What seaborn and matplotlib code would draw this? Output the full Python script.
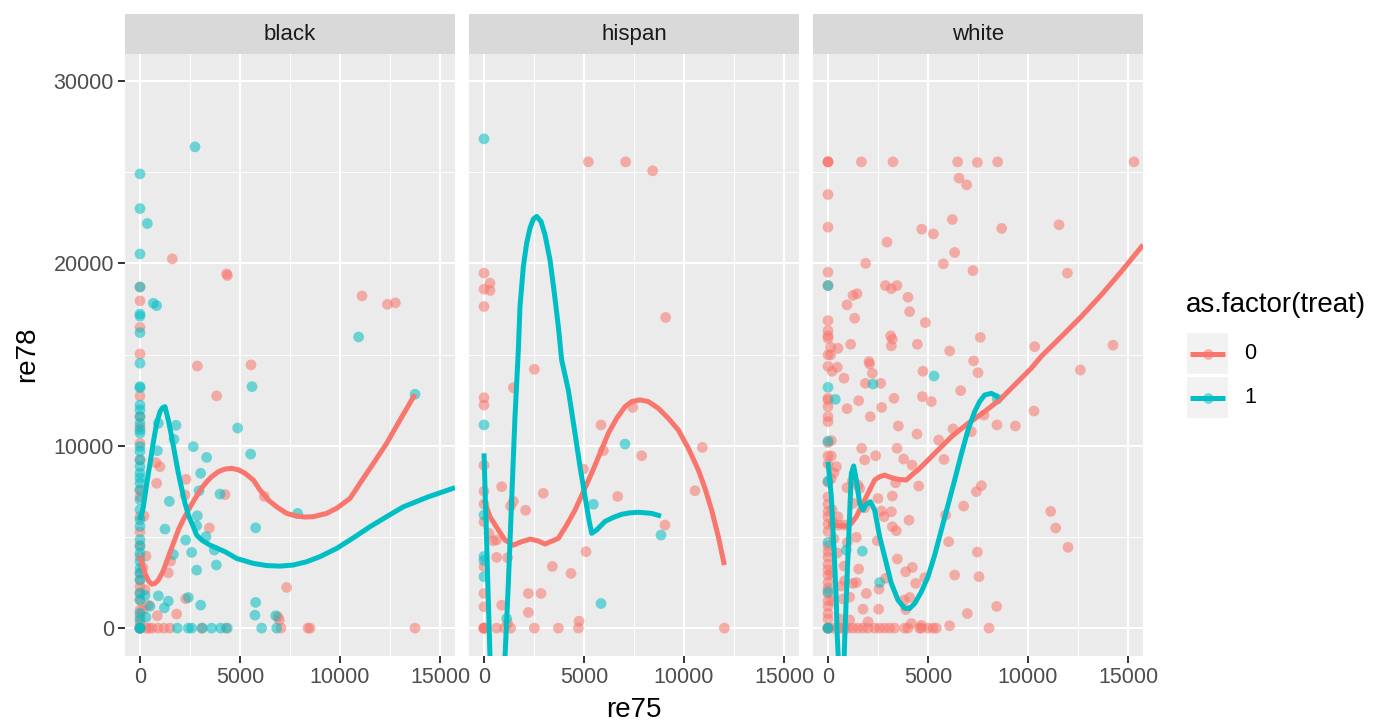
import numpy as np
import pandas as pd
import matplotlib
matplotlib.use("Agg")
import matplotlib.pyplot as plt
import seaborn as sns
from matplotlib.ticker import MultipleLocator, FixedLocator
from matplotlib.lines import Line2D
from matplotlib.patches import Rectangle

# ---------------- data ----------------
facets = ["black", "hispan", "white"]
treat_levels = ["0", "1"]
x_ticks = [0, 5000, 10000, 15000]
y_ticks = [0, 10000, 20000, 30000]
x_label = "re75"
y_label = "re78"
legend_title = "as.factor(treat)"

black_ctrl = [
    (0, 18700), (0, 17940), (0, 16490), (0, 15030), (0, 12730), (0, 11590), (0, 11040), (0, 10130),
    (0, 9210), (0, 7570), (0, 7200), (0, 6110), (0, 5280), (0, 4550), (0, 3910), (0, 3000), (0, 2630),
    (0, 2270), (0, 1900), (0, 1540), (0, 990), (0, 620), (0, 260), (0, 0), (0, 0), (0, 0), (0, 0),
    (1617, 20240), (4330, 19420), (4370, 19330), (11100, 18210), (12370, 17750), (12770, 17830),
    (2867, 14370), (5550, 14430), (3833, 12730), (800, 9070), (1000, 8850), (2300, 8160), (833, 7940),
    (2250, 7300), (4250, 7320), (6217, 7220), (200, 6140), (3467, 5490), (1533, 3680), (300, 3950),
    (1417, 3030), (7333, 2230), (2283, 1610), (417, 1260), (867, 680), (1833, 770), (6967, 440),
    (7050, 0), (3083, 0), (4300, 0), (8500, 0), (8400, 0), (13750, 0), (300, 0), (600, 0), (900, 0),
    (1200, 0), (1500, 0), (150, 1000), (250, 2100), (450, 0), (150, 3300), (6900, 620),
]
black_trt = [
    (0, 24900), (0, 23000), (0, 20510), (0, 18700), (0, 17220), (0, 17100), (0, 16200), (0, 14520),
    (0, 13240), (0, 13180), (0, 12230), (0, 11960), (0, 11600), (0, 11230), (0, 10870), (0, 10690),
    (0, 9960), (0, 9690), (0, 9230), (0, 8860), (0, 8500), (0, 8230), (0, 7950), (0, 7580), (0, 7040),
    (0, 6490), (0, 5940), (0, 5580), (0, 4850), (0, 4480), (0, 4110), (0, 3660), (0, 3290), (0, 3020),
    (0, 2650), (0, 1920), (0, 1550), (0, 820), (0, 460), (0, 0), (0, 0), (0, 0),
    (2750, 26380), (367, 22180), (667, 17810), (833, 17680), (10930, 15960), (13750, 12820),
    (5600, 13240), (917, 11230), (1800, 11120), (1700, 10350), (4883, 10970), (2667, 9950),
    (867, 9730), (3333, 9360), (5533, 9540), (3033, 8490), (2950, 7530), (4000, 7350), (1467, 6950),
    (7883, 6290), (2867, 6160), (2833, 5610), (5783, 5500), (1250, 5430), (3300, 5010), (2283, 4830),
    (3717, 4280), (2583, 4150), (1667, 4040), (3817, 3460), (2833, 3180), (917, 1770), (2417, 1680),
    (1417, 1480), (3033, 1260), (5783, 1410), (1217, 1110), (5750, 710), (6783, 680), (1867, 0),
    (2417, 0), (2583, 0), (3117, 0), (3583, 0), (4033, 0), (4367, 0), (6083, 0), (6833, 0),
    (500, 1200), (300, 600), (250, 1800),
]
hispan_ctrl = [
    (5217, 25560), (7083, 25560), (8433, 25070), (0, 19460), (300, 18910), (0, 18580), (300, 18510),
    (0, 17630), (9083, 17030), (2517, 14190), (1467, 13180), (0, 12630), (0, 12230), (7433, 12100),
    (5850, 11140), (5967, 9730), (7883, 9450), (10917, 9910), (0, 8920), (4967, 8720), (0, 7500),
    (0, 6800), (0, 5830), (883, 7750), (2967, 7390), (1467, 6950), (1333, 6690), (2083, 6460),
    (6683, 7220), (10550, 7530), (9050, 5650), (250, 5200), (467, 4790), (633, 4830), (5100, 4190),
    (633, 3880), (1183, 3860), (0, 3380), (3417, 3380), (4350, 3000), (0, 1900), (2217, 1900),
    (2850, 1900), (0, 1170), (883, 1260), (2217, 860), (1183, 260), (4750, 380), (0, 0), (0, 0),
    (0, 0), (0, 0), (633, 0), (1017, 0), (1333, 0), (2517, 0), (3717, 0), (4717, 0), (12017, 0),
]
hispan_trt = [
    (0, 26820), (0, 11140), (7050, 10090), (0, 6200), (5467, 6790), (8850, 5100), (0, 3930),
    (0, 3710), (0, 2820), (5850, 1350), (1133, 530),
]
white_ctrl = [
    (0, 25560), (0, 25560), (0, 25560), (1667, 25560), (3250, 25560), (6483, 25560), (7467, 25530),
    (8483, 25560), (15300, 25560), (6550, 24670), (6933, 24300), (0, 23770), (0, 21980), (6217, 22400),
    (4683, 21870), (5267, 21610), (8683, 21910), (11550, 22110), (2950, 21160), (6333, 20590),
    (1883, 20000), (5767, 19970), (7250, 19600), (11967, 19460), (0, 19510), (0, 18780), (2867, 18780),
    (3167, 18610), (3450, 18780), (1250, 18240), (1450, 18330), (4000, 18140), (950, 17720),
    (1333, 16990), (4083, 17350), (4867, 16750), (0, 16860), (0, 16310), (0, 16020), (0, 15890),
    (3133, 16020), (3217, 15840), (1133, 15560), (500, 15340), (133, 15400), (3167, 15470),
    (4467, 15560), (6083, 15190), (7617, 15940), (10333, 15430), (14250, 15510), (0, 14980),
    (133, 14980), (2050, 14610), (7283, 14650),
    (0, 14350), (200, 14080), (467, 14300), (2083, 14480), (2217, 13970), (800, 13700), (1867, 13420),
    (2633, 13420), (4750, 14080), (7500, 14000), (12617, 14150), (0, 12600), (0, 12510), (0, 12140),
    (1533, 12470), (950, 12030), (3300, 12600), (4717, 12690), (5167, 12420), (6633, 13020),
    (2683, 12100), (2117, 11590), (0, 11590), (0, 11320), (10300, 11900), (7800, 11680), (8450, 11140),
    (9367, 11080), (3517, 11080), (4450, 10640), (6250, 10920), (7167, 10770), (5533, 10310),
    (0, 10170), (167, 10280), (1683, 9860), (3450, 9860), (0, 9440), (167, 9440), (1833, 9220),
    (2383, 9450), (3783, 9270), (4200, 8940), (5800, 9250), (417, 8850), (300, 8520), (167, 8200),
    (1217, 8060), (1500, 7840), (1583, 7660), (950, 7700), (3383, 7970), (4533, 7790), (7667, 7810),
    (7417, 7480), (2500, 7110), (3217, 7240), (1250, 6840), (6783, 6690), (1833, 6600), (2667, 6420),
    (3167, 6380), (2800, 6110), (4050, 5920), (5883, 6200), (11133, 6400), (11383, 5490), (12000, 4430),
    (500, 6100), (533, 5650), (833, 5650), (3217, 5560), (3417, 5340), (1417, 4980), (2467, 4790),
    (967, 4700), (6033, 4740), (7467, 4170), (467, 4120), (3467, 3790), (800, 3400), (1533, 3240),
    (4217, 3330), (3883, 3090), (6333, 2910), (7550, 2820), (4833, 2760), (2883, 2730), (2550, 2140),
    (4383, 2450), (667, 2300), (1250, 2450), (1417, 2500), (833, 2600), (1917, 1900), (1083, 1700),
    (750, 1600), (3800, 1540), (4083, 1680), (3883, 1020), (1750, 1040), (2533, 1040), (6967, 800),
    (8433, 1190), (583, 500), (1083, 450), (2000, 350), (4167, 250), (4667, 150), (6083, 130),
    (8050, 0),
    (0, 0), (0, 0), (0, 0), (250, 0), (500, 0), (667, 0), (833, 0), (1000, 0), (1250, 0), (1500, 0),
    (1750, 0), (2000, 0), (2333, 0), (2583, 0), (2833, 0), (3083, 0), (3333, 0), (3833, 0), (4000, 0),
    (4583, 0), (4667, 0), (5000, 0), (5250, 0), (5417, 0),
    (0, 9000), (0, 8000), (0, 7200), (0, 6800), (0, 6400), (0, 6100), (0, 5700), (0, 5300), (0, 4500),
    (0, 4200), (0, 3900), (0, 3500), (0, 3200), (0, 2900), (0, 2500), (0, 2200), (0, 1900), (0, 1500),
    (0, 1200), (0, 800), (0, 500), (200, 6500), (250, 5800), (300, 4900), (150, 3000), (200, 1500),
]
white_trt = [
    (0, 18780), (2250, 13380), (5300, 13820), (0, 13200), (367, 12540), (8467, 12560), (0, 8060),
    (1717, 4220), (917, 4280), (2583, 2500), (0, 10250), (0, 0), (0, 0), (0, 4700), (0, 2000),
]

# smoothed (loess) curves
black_ctrl_curve = [
    (0, 3910), (250, 3000), (417, 2600), (583, 2410), (750, 2450), (917, 2630), (1167, 3150),
    (1417, 3910), (1667, 4640), (1917, 5380), (2167, 5950), (2417, 6470), (2667, 6950), (2917, 7390),
    (3167, 7800), (3417, 8120), (3583, 8300), (3917, 8580), (4250, 8720), (4583, 8760), (4917, 8680),
    (5250, 8490), (5667, 8120), (6000, 7570), (6417, 7020), (6833, 6650), (7333, 6290), (7833, 6140),
    (8250, 6090), (8667, 6110), (9333, 6290), (9833, 6570), (10500, 7110), (11000, 7940),
    (11667, 9030), (12333, 10130), (13000, 11410), (13750, 12820),
]
black_trt_curve = [
    (0, 5920), (167, 6650), (333, 7900), (500, 9030), (667, 10200), (833, 11230), (1000, 11870),
    (1125, 12080), (1250, 12140), (1417, 11400), (1583, 10490), (1750, 9490), (1917, 8490),
    (2083, 7660), (2250, 6840), (2450, 6110), (2667, 5560), (2833, 5100), (3083, 4830), (3500, 4550),
    (4250, 4190), (4833, 3820), (5667, 3550), (6333, 3430), (7000, 3400), (7667, 3460), (8333, 3640),
    (9000, 3920), (9833, 4370), (10667, 4950), (11500, 5560), (12333, 6110), (13167, 6650),
    (14417, 7200), (15750, 7700),
]
hispan_ctrl_curve = [
    (0, 7020), (300, 6110), (717, 5380), (1050, 4830), (1467, 4550), (1883, 4740), (2300, 4880),
    (2683, 4790), (3050, 4610), (3717, 4920), (4133, 5650), (4550, 6470), (4967, 7480), (5383, 8490),
    (5800, 9580), (6217, 10680), (6633, 11500), (7050, 12140), (7383, 12420), (7800, 12510),
    (8217, 12420), (8717, 12050), (9217, 11500), (9717, 10860), (10217, 9860), (10717, 8670),
    (11050, 7660), (11383, 6470), (11717, 5010), (12017, 3460),
]
hispan_trt_curve = [
    (0, 9580), (93, 6110), (190, 2450), (300, -1570), (450, -4000), (650, -5200), (850, -4000),
    (1050, -1570), (1217, 2450), (1383, 7020), (1550, 11590), (1717, 15250), (1800, 17630),
    (1967, 19820), (2133, 21100), (2300, 21930), (2467, 22420), (2633, 22570), (2850, 22290),
    (3050, 21560), (3300, 20190), (3517, 18360), (3717, 16530), (3883, 14700), (4217, 13050),
    (4550, 10680), (4800, 8850), (5050, 7220), (5250, 5920), (5383, 5200), (5633, 5380), (6050, 5850),
    (6467, 6070), (6883, 6240), (7300, 6320), (7717, 6350), (8383, 6290), (8850, 6140),
]
white_ctrl_curve = [
    (0, 5700), (500, 5620), (917, 5600), (1167, 5740), (1417, 6110), (1667, 6650), (2000, 7390),
    (2333, 8120), (2583, 8300), (2833, 8390), (3167, 8250), (3500, 8160), (3917, 8120), (4250, 8450),
    (4500, 8670), (4917, 9120), (5333, 9580), (5750, 10030), (6167, 10490), (6583, 10860),
    (7000, 11220), (7417, 11540), (7833, 11870), (8250, 12230), (8667, 12600), (9167, 13150),
    (9667, 13700), (10167, 14250), (10667, 14900), (11667, 15980), (12667, 17080), (13667, 18270),
    (14667, 19550), (15750, 21010),
]
white_trt_curve = [
    (0, 9120), (167, 7200), (250, 5380), (333, 3550), (417, 1350), (450, -110), (550, -2500),
    (650, -4000), (783, -2500), (850, -110), (917, 1720), (983, 3550), (1050, 5380), (1117, 7200),
    (1167, 8490), (1283, 8890), (1417, 8120), (1583, 6840), (1750, 6470), (1883, 6750), (2117, 6930),
    (2333, 6470), (2583, 5010), (2667, 4640), (2917, 3550), (3167, 2450), (3500, 1540), (3833, 1080),
    (4083, 1080), (4333, 1350), (4667, 1990), (5000, 2820), (5333, 4000), (5667, 5380), (6000, 6750),
    (6333, 8120), (6667, 9540), (7000, 10860), (7333, 11870), (7583, 12420), (7833, 12780),
    (8167, 12870), (8417, 12730), (8533, 12600),
]

# ---------------- tables ----------------
def to_df(pts, race, treat):
    d = pd.DataFrame(pts, columns=["re75", "re78"])
    d["race"] = race
    d["treat"] = treat
    return d

points = pd.concat([
    to_df(black_ctrl, "black", "0"), to_df(black_trt, "black", "1"),
    to_df(hispan_ctrl, "hispan", "0"), to_df(hispan_trt, "hispan", "1"),
    to_df(white_ctrl, "white", "0"), to_df(white_trt, "white", "1"),
], ignore_index=True)
curves = pd.concat([
    to_df(black_ctrl_curve, "black", "0"), to_df(black_trt_curve, "black", "1"),
    to_df(hispan_ctrl_curve, "hispan", "0"), to_df(hispan_trt_curve, "hispan", "1"),
    to_df(white_ctrl_curve, "white", "0"), to_df(white_trt_curve, "white", "1"),
], ignore_index=True)

# ---------------- style ----------------
RED, TEAL = "#F8766D", "#00BFC4"
palette = {"0": RED, "1": TEAL}
plt.rcParams["font.family"] = ["Liberation Sans", "DejaVu Sans"]

W, H = 1374, 725
fig = plt.figure(figsize=(W / 100, H / 100), dpi=100)
fig.patch.set_facecolor("white")

panel_left = [125, 469, 813]
panel_w = 330
panel_top, panel_bot = 53.5, 655.5
strip_top = 14

TICK_FS = 15.5
TITLE_FS = 20
LINE_W = 3.6

def fx(px):
    return px / W

def fy(py):
    return 1 - py / H

for i, race in enumerate(facets):
    ax = fig.add_axes([fx(panel_left[i]), fy(panel_bot), panel_w / W, (panel_bot - panel_top) / H])
    ax.set_facecolor("#EBEBEB")
    for s in ax.spines.values():
        s.set_visible(False)
    ax.set_xlim(-750, 15750)
    ax.set_ylim(-1500, 31500)
    ax.xaxis.set_major_locator(FixedLocator(x_ticks))
    ax.yaxis.set_major_locator(FixedLocator(y_ticks))
    ax.xaxis.set_minor_locator(MultipleLocator(2500))
    ax.yaxis.set_minor_locator(MultipleLocator(5000))
    ax.set_axisbelow(True)
    ax.grid(which="major", color="white", linewidth=1.45)
    ax.grid(which="minor", color="white", linewidth=0.72)
    ax.tick_params(which="minor", length=0)
    ax.tick_params(which="major", length=5, width=1.4, color="#333333",
                   labelcolor="#4D4D4D", labelsize=TICK_FS, pad=3)

    sub = points[points["race"] == race]
    sns.scatterplot(data=sub, x="re75", y="re78", hue="treat", hue_order=treat_levels,
                    palette=palette, alpha=0.55, s=60, linewidth=0, legend=False, ax=ax, zorder=3)
    csub = curves[curves["race"] == race]
    sns.lineplot(data=csub, x="re75", y="re78", hue="treat", hue_order=treat_levels,
                 palette=palette, linewidth=LINE_W, estimator=None, sort=False, legend=False,
                 ax=ax, zorder=4)
    for ln in ax.get_lines():
        ln.set_solid_joinstyle("round")
        ln.set_solid_capstyle("butt")
    ax.set_xlabel("")
    ax.set_ylabel("")
    ax.set_xticklabels([f"{t}" for t in x_ticks])
    if i == 0:
        ax.set_yticklabels([f"{t}" for t in y_ticks])
    else:
        ax.tick_params(axis="y", which="both", left=False, labelleft=False)

    # facet strip
    sax = fig.add_axes([fx(panel_left[i]), fy(panel_top), panel_w / W, (panel_top - strip_top) / H])
    sax.set_facecolor("#D9D9D9")
    sax.set_xticks([])
    sax.set_yticks([])
    for s in sax.spines.values():
        s.set_visible(False)
    sax.text(0.5, 0.47, race, ha="center", va="center", fontsize=16, color="#1A1A1A",
             transform=sax.transAxes)

# axis titles
fig.text(fx((panel_left[0] + panel_left[2] + panel_w) / 2), fy(710), x_label, ha="center",
         va="center", fontsize=TITLE_FS, color="black")
fig.text(fx(27), fy((panel_top + panel_bot) / 2), y_label, ha="center", va="center",
         rotation=90, fontsize=TITLE_FS, color="black")

# legend
fig.text(fx(1186), fy(305), legend_title, ha="left", va="center", fontsize=TITLE_FS, color="black")
key_tops = [333, 377]
for lvl, top in zip(treat_levels, key_tops):
    fig.add_artist(Rectangle((fx(1187), fy(top + 41)), 41 / W, 41 / H, transform=fig.transFigure,
                             facecolor="#F2F2F2", edgecolor="none"))
    cy = fy(top + 20.5)
    fig.add_artist(Line2D([fx(1207.5)], [cy], transform=fig.transFigure, marker="o",
                          markersize=7.7, markeredgewidth=0, color=palette[lvl], alpha=0.55,
                          linestyle="none"))
    fig.add_artist(Line2D([fx(1190), fx(1225)], [cy, cy], transform=fig.transFigure,
                          color=palette[lvl], linewidth=LINE_W, solid_capstyle="butt"))
    fig.text(fx(1244), cy, lvl, ha="left", va="center", fontsize=TICK_FS, color="black")

fig.savefig("out.png", dpi=100, facecolor="white")
